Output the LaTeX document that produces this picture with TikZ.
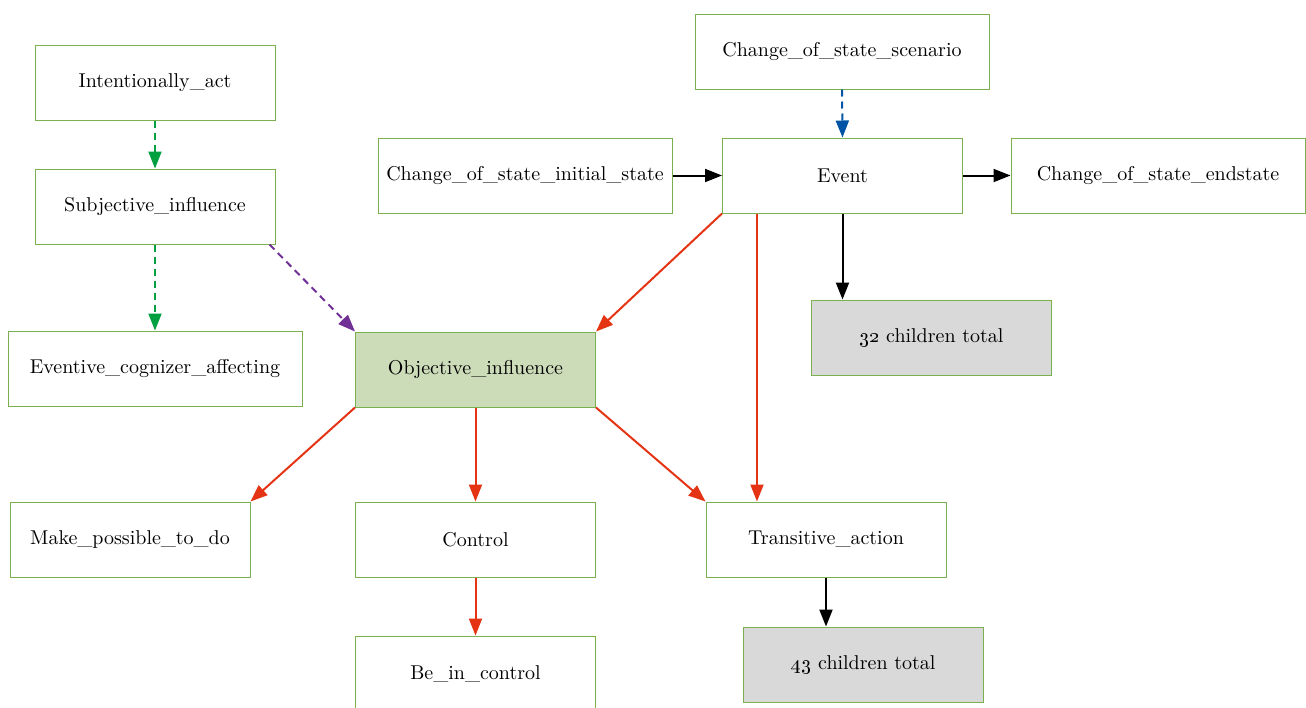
\documentclass[tikz,border=0pt]{standalone}
\usepackage{tikz}
\usetikzlibrary{arrows.meta,calc}
\definecolor{framegreen}{RGB}{122,176,80}
\definecolor{fillgreen}{RGB}{205,220,184}
\definecolor{fillgray}{RGB}{217,217,217}
\definecolor{edgered}{RGB}{228,52,20}
\definecolor{edgegreen}{RGB}{0,160,64}
\definecolor{edgepurple}{RGB}{112,48,150}
\definecolor{edgeblue}{RGB}{0,84,166}

\begin{document}
\begin{tikzpicture}[x=0.5pt,y=-0.5pt]
       \tikzstyle{frame} = [rectangle, draw=framegreen, line width=0.5pt, fill=white, minimum width=120pt, minimum height=37.5pt, inner sep=0pt];
       \tikzstyle{wide} = [frame, minimum width=147pt];
       \tikzstyle{focus} = [frame, fill=fillgreen];
       \tikzstyle{total} = [frame, fill=fillgray];
       \tikzstyle{link} = [line width=1pt, -{Triangle[length=8.5pt,width=6.5pt]}];
       \tikzstyle{dashlink} = [link, dash pattern=on 3.5pt off 2.5pt];
       \useasboundingbox (0,0) rectangle (1306,707);

       % left column
       \node[frame](intact) at (155,82.5) {Intentionally\_act};
       \node[frame](subj) at (155,206.5) {Subjective\_influence};
       \node[wide](evcog) at (155,368.5) {Eventive\_cognizer\_affecting};
       \node[focus](obj) at (475.5,369.5) {Objective\_influence};
       \node[frame](makeposs) at (130,539.5) {Make\_possible\_to\_do};
       \node[frame](control) at (475.5,539.5) {Control};
       \node[frame](beinctrl) at (475.5,673.5) {Be\_in\_control};

       % right part
       \node[wide](scenario) at (842,51.5) {Change\_of\_state\_scenario};
       \node[wide](initial) at (525,175.5) {Change\_of\_state\_initial\_state};
       \node[frame](event) at (842.5,175.5) {Event};
       \node[wide](endstate) at (1158,175.5) {Change\_of\_state\_endstate};
       \node[total](tot32) at (931.5,337.5) {\oldstylenums{32} children total};
       \node[frame](trans) at (826,539.5) {Transitive\_action};
       \node[total](tot43) at (863.5,664.5) {\oldstylenums{43} children total};
       \coordinate (evred) at ($(event.south west)+(35,0)$);

       \draw[dashlink, edgegreen] (intact.south) -- (subj.north);
       \draw[dashlink, edgegreen] (subj.south) -- (evcog.north);
       \draw[dashlink, edgepurple] ($(subj.south east)+(-6,0)$) -- (obj.north west);
       \draw[dashlink, edgeblue] (scenario.south) -- (event.north);

       \draw[link] (initial.east) -- (event.west);
       \draw[link] (event.east) -- (endstate.west);
       \draw[link] (event.south) -- (tot32.north -| event.south);
       \draw[link] (trans.south) -- (tot43.north -| trans.south);

       \draw[link, edgered] (event.south west) -- (obj.north east);
       \draw[link, edgered] (evred) -- (trans.north -| evred);
       \draw[link, edgered] (obj.south west) -- (makeposs.north east);
       \draw[link, edgered] (obj.south) -- (control.north);
       \draw[link, edgered] (obj.south east) -- (trans.north west);
       \draw[link, edgered] (control.south) -- (beinctrl.north);
     \end{tikzpicture}
\end{document}
